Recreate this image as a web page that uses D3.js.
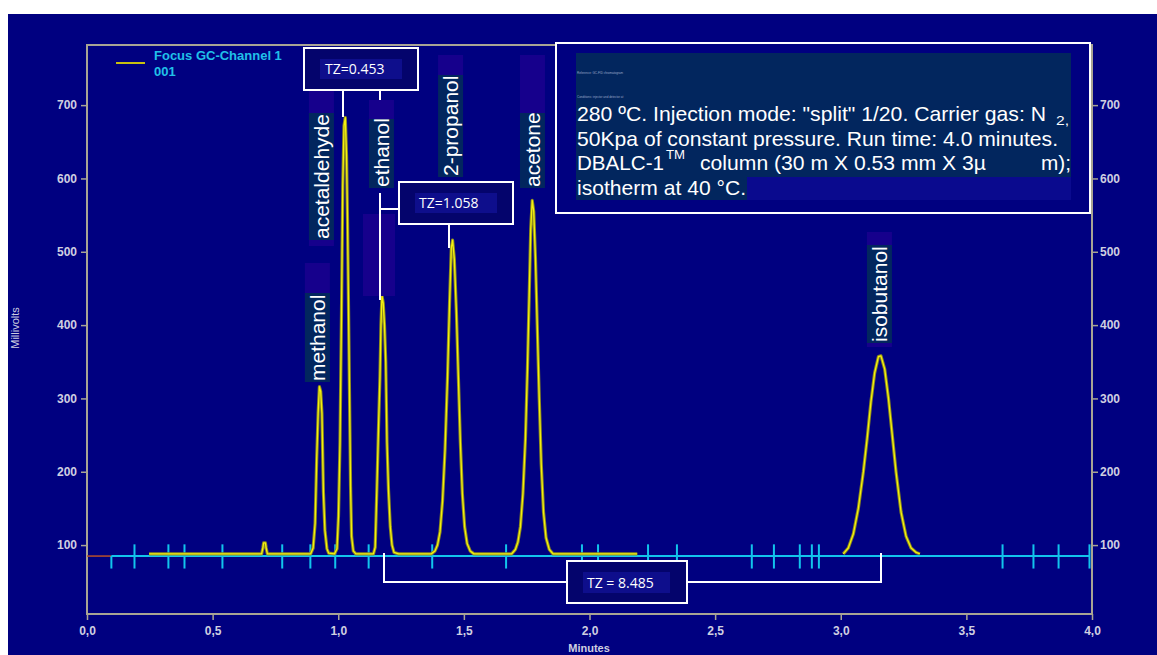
<!DOCTYPE html>
<html>
<head>
<meta charset="utf-8">
<script src="https://cdn.jsdelivr.net/npm/d3@7"></script>
<style>
  html, body { margin: 0; padding: 0; background: #fff; overflow: hidden; }
  svg { display: block; }
</style>
</head>
<body>
<svg id="chart" width="1157" height="655"></svg>
<script>
// axis ticks
const xTicks = [0, 0.5, 1, 1.5, 2, 2.5, 3, 3.5, 4];
const yTicks = [100, 200, 300, 400, 500, 600, 700];

// detector trace (min, mV); null marks the gap between recorded segments
const traceTime = [
  0.247, 0.695, 0.700, 0.703, 0.710, 0.713, 0.718,
  0.890, 0.900, 0.908, 0.914, 0.920, 0.925, 0.930, 0.935, 0.941, 0.947, 0.955, 0.962,
  0.985, 0.995, 1.001, 1.007, 1.013, 1.018, 1.023, 1.028, 1.033, 1.037, 1.041, 1.045, 1.049, 1.053, 1.060, 1.070,
  1.140, 1.147, 1.154, 1.160, 1.166, 1.170, 1.174, 1.179, 1.184, 1.189, 1.194, 1.200, 1.207, 1.214, 1.222, 1.240,
  1.370, 1.385, 1.395, 1.405, 1.415, 1.425, 1.435, 1.443, 1.450, 1.455, 1.462, 1.470, 1.478, 1.486, 1.494, 1.503, 1.513, 1.525, 1.540,
  1.690, 1.705, 1.715, 1.725, 1.735, 1.745, 1.753, 1.760, 1.766, 1.772, 1.778, 1.785, 1.792, 1.800, 1.808, 1.817, 1.827, 1.840, 1.855,
  2.190, null,
  3.010, 3.030, 3.050, 3.070, 3.090, 3.105, 3.120, 3.135, 3.150, 3.160, 3.175, 3.190, 3.205, 3.220, 3.240, 3.260, 3.280, 3.300, 3.315
];
const traceMv = [
  88, 88, 96, 103, 103, 96, 88,
  88, 96, 130, 215, 280, 316, 310, 280, 172, 120, 95, 89,
  88, 95, 140, 240, 420, 590, 672, 683, 630, 540, 420, 300, 180, 112, 92, 88,
  88, 97, 180, 257, 330, 400, 440, 430, 400, 350, 240, 175, 125, 100, 90, 88,
  88, 92, 100, 118, 160, 230, 330, 430, 505, 516, 490, 420, 330, 240, 170, 125, 102, 92, 88,
  88, 94, 104, 125, 170, 245, 340, 440, 530, 570, 555, 490, 400, 300, 210, 145, 110, 94, 88,
  88, null,
  88, 96, 115, 150, 200, 245, 295, 335, 357, 358, 340, 300, 250, 200, 145, 112, 96, 90, 88
];

// integration baseline and event markers
const baselineStart = 0.097;
const baselineMv = 85;
const eventTimes = [0.097, 0.189, 0.324, 0.388, 0.539, 0.777, 0.889, 0.988, 1.121, 1.374, 1.668,
  1.970, 2.034, 2.233, 2.348, 2.646, 2.734, 2.837, 2.885, 2.913, 3.644, 3.767, 3.867, 3.990];

// peak labels
const peakNames = ['methanol', 'acetaldehyde', 'ethanol', '2-propanol', 'acetone', 'isobutanol'];
const labelTimes = [0.917, 0.933, 1.172, 1.447, 1.773, 3.154];

const tzTexts = ['TZ=0.453', 'TZ=1.058', 'TZ = 8.485'];

const W = 1157, H = 655;
const svg = d3.select('#chart');
const x = d3.scaleLinear().domain([0, 4]).range([87, 1092]);
const y = d3.scaleLinear().domain([6, 782]).range([614, 45]);

const NAVY = '#000080', AXIS = '#a8a494', TICKTXT = '#cfcfe0';

svg.append('rect').attr('x', 8).attr('y', 14).attr('width', W - 8).attr('height', H - 14).attr('fill', NAVY);

// axes
function styleAxis(sel) {
  sel.select('.domain').remove();
  sel.selectAll('line').attr('stroke', AXIS).attr('stroke-width', 1.5);
  sel.selectAll('text').attr('fill', TICKTXT).attr('font-family', 'Liberation Sans, Arial, sans-serif')
    .attr('font-size', 12).attr('font-weight', 'bold');
}
svg.append('g').attr('transform', 'translate(87,0)')
  .call(d3.axisLeft(y).tickValues(yTicks).tickSize(6).tickPadding(4).tickFormat(d3.format('d')))
  .call(styleAxis);
svg.append('g').attr('transform', 'translate(1092,0)')
  .call(d3.axisRight(y).tickValues(yTicks).tickSize(6).tickPadding(2).tickFormat(d3.format('d')))
  .call(styleAxis);
svg.append('g').attr('transform', 'translate(0,614)')
  .call(d3.axisBottom(x).tickValues(xTicks).tickSize(6).tickPadding(6).tickFormat(d => d.toFixed(1).replace('.', ',')))
  .call(styleAxis);

svg.append('rect').attr('x', 87).attr('y', 45).attr('width', 1005).attr('height', 569)
  .attr('fill', 'none').attr('stroke', AXIS).attr('stroke-width', 2);

svg.append('text').attr('transform', 'translate(19,328) rotate(-90)').attr('text-anchor', 'middle')
  .attr('fill', TICKTXT).attr('font-family', 'Liberation Sans, Arial, sans-serif').attr('font-size', 11)
  .text('Millivolts');
svg.append('text').attr('x', 589).attr('y', 652).attr('text-anchor', 'middle')
  .attr('fill', TICKTXT).attr('font-family', 'Liberation Sans, Arial, sans-serif').attr('font-size', 11).attr('font-weight', 'bold')
  .text('Minutes');

// baseline + events
svg.append('line').attr('x1', x(0)).attr('x2', x(baselineStart)).attr('y1', y(baselineMv)).attr('y2', y(baselineMv))
  .attr('stroke', '#b8502a').attr('stroke-width', 1.5);
svg.append('line').attr('x1', x(baselineStart)).attr('x2', x(4) - 2).attr('y1', y(baselineMv)).attr('y2', y(baselineMv))
  .attr('stroke', '#12c4ec').attr('stroke-width', 2);
svg.append('g').selectAll('line').data(eventTimes).enter().append('line')
  .attr('x1', d => x(d)).attr('x2', d => x(d))
  .attr('y1', (d, i) => i === 0 ? y(baselineMv) : y(baselineMv + 16))
  .attr('y2', y(baselineMv - 17))
  .attr('stroke', '#12c4ec').attr('stroke-width', 2);

// trace
const pts = traceTime.map((t, i) => ({ t, v: traceMv[i] }));
const line = d3.line().defined(d => d.t !== null && d.v !== null).x(d => x(d.t)).y(d => y(d.v));
svg.append('path').datum(pts).attr('d', line).attr('fill', 'none')
  .attr('stroke', '#8c8a1e').attr('stroke-width', 3.2).attr('stroke-linejoin', 'round');
svg.append('path').datum(pts).attr('d', line).attr('fill', 'none')
  .attr('stroke', '#f4f010').attr('stroke-width', 1.3).attr('stroke-linejoin', 'round');

// label boxes
const PURPLE = '#16008c', TEAL = '#02265e';
const labelBox = [
  { pTop: 263, top: 293, bot: 382, pBot: 382 },
  { pTop: 90, top: 113, bot: 240, pBot: 246 },
  { pTop: 100, top: 119, bot: 188, pBot: 188 },
  { pTop: 55, top: 75, bot: 177, pBot: 177 },
  { pTop: 55, top: 113, bot: 188, pBot: 188 },
  { pTop: 232, top: 245, bot: 343, pBot: 347 }
];
svg.append('rect').attr('x', 363).attr('y', 214).attr('width', 32).attr('height', 82).attr('fill', PURPLE);
const lab = svg.append('g');
peakNames.forEach((name, i) => {
  const cx = x(labelTimes[i]), b = labelBox[i];
  lab.append('rect').attr('x', cx - 12.5).attr('y', b.pTop).attr('width', 25).attr('height', b.pBot - b.pTop).attr('fill', PURPLE);
  lab.append('rect').attr('x', cx - 12.5).attr('y', b.top).attr('width', 25).attr('height', b.bot - b.top).attr('fill', TEAL);
  lab.append('text').attr('transform', `translate(${cx},${b.bot - 1}) rotate(-90)`)
    .attr('dy', '0.36em').attr('fill', '#fff')
    .attr('font-family', 'Liberation Sans, Arial, sans-serif').attr('font-size', 21)
    .text(name);
});

// connectors
const conn = [
  [[343, 90], [343, 117]],
  [[380, 90], [380, 100]],
  [[380, 193], [380, 300]],
  [[380, 209], [399, 209]],
  [[449, 224], [449, 248]],
  [[384, 553], [384, 582], [567, 582]],
  [[687, 582], [881, 582], [881, 553]]
];
svg.append('g').selectAll('path').data(conn).enter().append('path')
  .attr('d', d3.line()).attr('fill', 'none').attr('stroke', '#fff').attr('stroke-width', 2);

// TZ boxes
const tzBox = [
  { x0: 304, y0: 48, x1: 418, y1: 90, ix0: 320, iy0: 59, ix1: 402, iy1: 79, tx: 325, ty: 74 },
  { x0: 399, y0: 182, x1: 513, y1: 224, ix0: 415, iy0: 193, ix1: 497, iy1: 213, tx: 419, ty: 208 },
  { x0: 567, y0: 561, x1: 687, y1: 603, ix0: 583, iy0: 572, ix1: 670, iy1: 593, tx: 587, ty: 588 }
];
tzBox.forEach((b, i) => {
  svg.append('rect').attr('x', b.x0).attr('y', b.y0).attr('width', b.x1 - b.x0).attr('height', b.y1 - b.y0)
    .attr('fill', '#04046c').attr('stroke', '#fff').attr('stroke-width', 2);
  svg.append('rect').attr('x', b.ix0).attr('y', b.iy0).attr('width', b.ix1 - b.ix0).attr('height', b.iy1 - b.iy0)
    .attr('fill', '#0e0e8c');
  svg.append('text').attr('x', b.tx).attr('y', b.ty).attr('fill', '#fff')
    .attr('font-family', 'Open Sans, Noto Sans, sans-serif').attr('font-size', 14)
    .text(tzTexts[i]);
});

// legend
svg.append('line').attr('x1', 116).attr('x2', 145).attr('y1', 63).attr('y2', 63).attr('stroke', '#c8c010').attr('stroke-width', 2);
svg.append('text').attr('x', 154).attr('y', 60).attr('fill', '#20c0e8')
  .attr('font-family', 'Liberation Sans, Arial, sans-serif').attr('font-size', 13).attr('font-weight', 'bold')
  .text('Focus GC-Channel 1');
svg.append('text').attr('x', 154).attr('y', 76).attr('fill', '#20c0e8')
  .attr('font-family', 'Liberation Sans, Arial, sans-serif').attr('font-size', 13).attr('font-weight', 'bold')
  .text('001');

// conditions box
svg.append('rect').attr('x', 556).attr('y', 43).attr('width', 534).attr('height', 170)
  .attr('fill', NAVY).attr('stroke', '#fff').attr('stroke-width', 2);
svg.append('rect').attr('x', 576).attr('y', 53).attr('width', 495).attr('height', 124).attr('fill', TEAL);
svg.append('rect').attr('x', 576).attr('y', 177).attr('width', 171).attr('height', 23).attr('fill', TEAL);
svg.append('rect').attr('x', 747).attr('y', 177).attr('width', 324).attr('height', 23).attr('fill', '#0a0a8e');

const info = svg.append('g').attr('fill', '#fff').attr('font-family', 'Liberation Sans, Arial, sans-serif');
info.append('text').attr('x', 577).attr('y', 74).attr('font-size', 3).attr('fill', '#9aa8c8').text('Reference: GC-FID chromatogram');
info.append('text').attr('x', 577).attr('y', 98).attr('font-size', 3).attr('fill', '#9aa8c8').text('Conditions: injector and detector at');
function put(txt, px, py, fs, len) {
  info.append('text').attr('x', px).attr('y', py).attr('font-size', fs)
    .attr('textLength', len).attr('lengthAdjust', 'spacingAndGlyphs').text(txt);
}
put('280 ºC. Injection mode: "split" 1/20. Carrier gas: N', 577, 121, 21, 469);
put('2,', 1056, 125, 13, 13);
put('50Kpa of constant pressure. Run time: 4.0 minutes.', 577, 145.5, 21, 481);
put('DBALC-1', 577, 170, 21, 87);
put('TM', 666, 159, 12, 19);
put('column (30 m X 0.53 mm X 3µ', 700, 170, 21, 286);
put('m);', 1041, 170, 21, 30);
put('isotherm at 40 °C.', 577, 194.5, 21, 169);
</script>
</body>
</html>
